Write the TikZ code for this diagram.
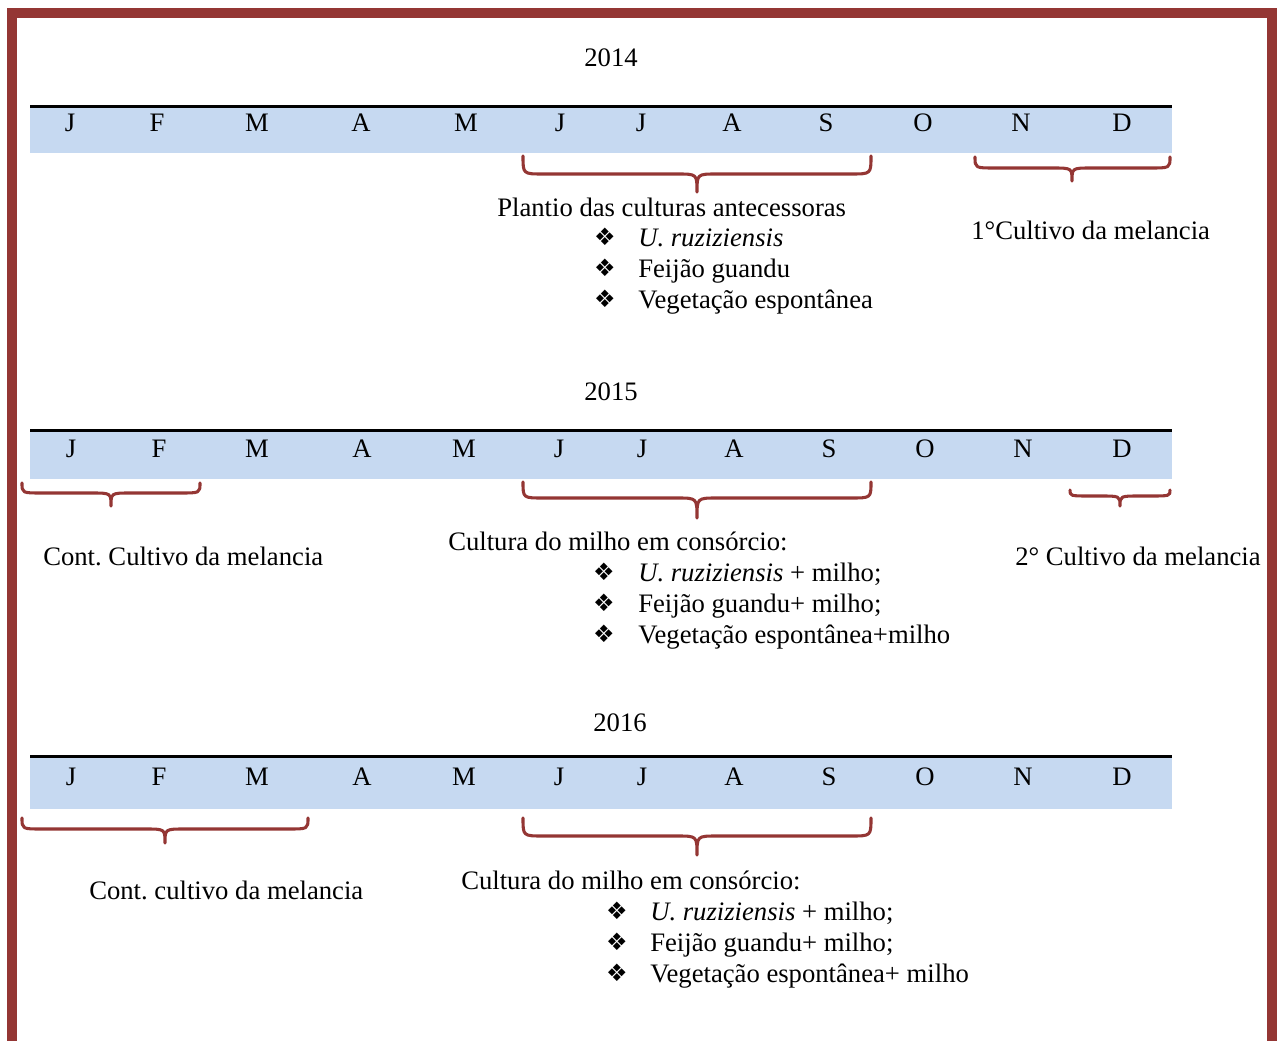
\documentclass[tikz,border=0pt]{standalone}
\usepackage{fontspec}
\setmainfont{Liberation Serif}
\newfontfamily\symfont{DejaVu Sans}
\definecolor{frame}{HTML}{943634}
\definecolor{band}{HTML}{C6D9F1}
\frenchspacing
\begin{document}
\begin{tikzpicture}[x=0.75pt,y=-0.75pt,
  txt/.style={font=\fontsize{20}{24}\selectfont, inner sep=0pt, anchor=base},
  ltxt/.style={txt, anchor=base west},
  bul/.style={font=\symfont\fontsize{18}{20}\selectfont, inner sep=0pt, anchor=base},
  bandbox/.style={fill=band, draw=none},
  bandline/.style={line width=1.6pt, black},
  bracestyle/.style={draw=frame, line width=2.3pt, line cap=round, line join=round}]
\useasboundingbox (0,0) rectangle (1279,1041);
\clip (0,0) rectangle (1279,1041);
\fill[white] (0,0) rectangle (1279,1041);
% outer frame
\draw[frame, line width=7.5pt] (12,13.5) rectangle (1272,1070);
\newcommand\mybrace[6]{% x1 x2 top mid tip xc
  \draw[bracestyle] (#1,#3) .. controls (#1,#4) .. (#1+20,#4) -- (#6-20,#4)
     .. controls (#6,#4) .. (#6,#5) .. controls (#6,#4) .. (#6+20,#4)
     -- (#2-20,#4) .. controls (#2,#4) .. (#2,#3);}
\newcommand\monthrow[2]{% y-baseline, x positions list
  \foreach \m/\x [count=\i] in {#2} \node[txt] (m#1-\i) at (\x,#1) {\m};}
% ---------- 2014 ----------
\node[txt] (y2014) at (611,67) {2014};
\fill[bandbox] (30,107) rectangle (1172,153);
\draw[bandline] (30,106.5) -- (1172,106.5);
\monthrow{132}{J/70,F/157,M/257,A/361,M/466,J/560,J/641,A/732,S/826,O/923,N/1021,D/1122}
\mybrace{523}{871}{156}{174}{192}{697}
\mybrace{975}{1170}{157}{168}{181}{1072}
\node[ltxt] (plantio) at (497,217) {Plantio das culturas antecessoras};
\node[bul] (b11) at (605,246) {❖};
\node[ltxt] (t11) at (638,247) {\itshape U. ruziziensis};
\node[bul] (b12) at (605,277) {❖};
\node[ltxt] (t12) at (638,278) {Feijão guandu};
\node[bul] (b13) at (605,308) {❖};
\node[ltxt] (t13) at (638,309) {Vegetação espontânea};
\node[ltxt] (cult1) at (971,240) {1°Cultivo da melancia};
% ---------- 2015 ----------
\node[txt] (y2015) at (611,401) {2015};
\fill[bandbox] (30,431) rectangle (1172,479);
\draw[bandline] (30,430.5) -- (1172,430.5);
\monthrow{457}{J/71,F/159,M/257,A/362,M/464,J/559,J/642,A/734,S/829,O/925,N/1023,D/1122}
\mybrace{22}{200}{483}{493}{506}{111}
\mybrace{523}{871}{482}{498}{518}{697}
\mybrace{1070}{1170}{490}{496}{506}{1120}
\node[ltxt] (cont1) at (43,565) {Cont. Cultivo da melancia};
\node[ltxt] (milho1) at (448,550) {Cultura do milho em consórcio:};
\node[bul] (b21) at (604,580) {❖};
\node[ltxt] (t21) at (638,581) {\itshape U. ruziziensis\upshape{} + milho;};
\node[bul] (b22) at (604,611) {❖};
\node[ltxt] (t22) at (638,612) {Feijão guandu+ milho;};
\node[bul] (b23) at (604,642) {❖};
\node[ltxt] (t23) at (638,643) {Vegetação espontânea+milho};
\node[ltxt] (cult2) at (1015,565) {2° Cultivo da melancia};
% ---------- 2016 ----------
\node[txt] (y2016) at (620,731) {2016};
\fill[bandbox] (30,757) rectangle (1172,809);
\draw[bandline] (30,756.5) -- (1172,756.5);
\monthrow{785}{J/71,F/159,M/257,A/362,M/464,J/559,J/642,A/734,S/829,O/925,N/1023,D/1122}
\mybrace{22}{308}{818}{829}{843}{165}
\mybrace{523}{871}{818}{836}{855}{697}
\node[ltxt] (cont2) at (89,899) {Cont. cultivo da melancia};
\node[ltxt] (milho2) at (461,889) {Cultura do milho em consórcio:};
\node[bul] (b31) at (617,919) {❖};
\node[ltxt] (t31) at (650,920) {\itshape U. ruziziensis\upshape{} + milho;};
\node[bul] (b32) at (617,950) {❖};
\node[ltxt] (t32) at (650,951) {Feijão guandu+ milho;};
\node[bul] (b33) at (617,981) {❖};
\node[ltxt] (t33) at (650,982) {Vegetação espontânea+ milho};
\end{tikzpicture}
\end{document}
